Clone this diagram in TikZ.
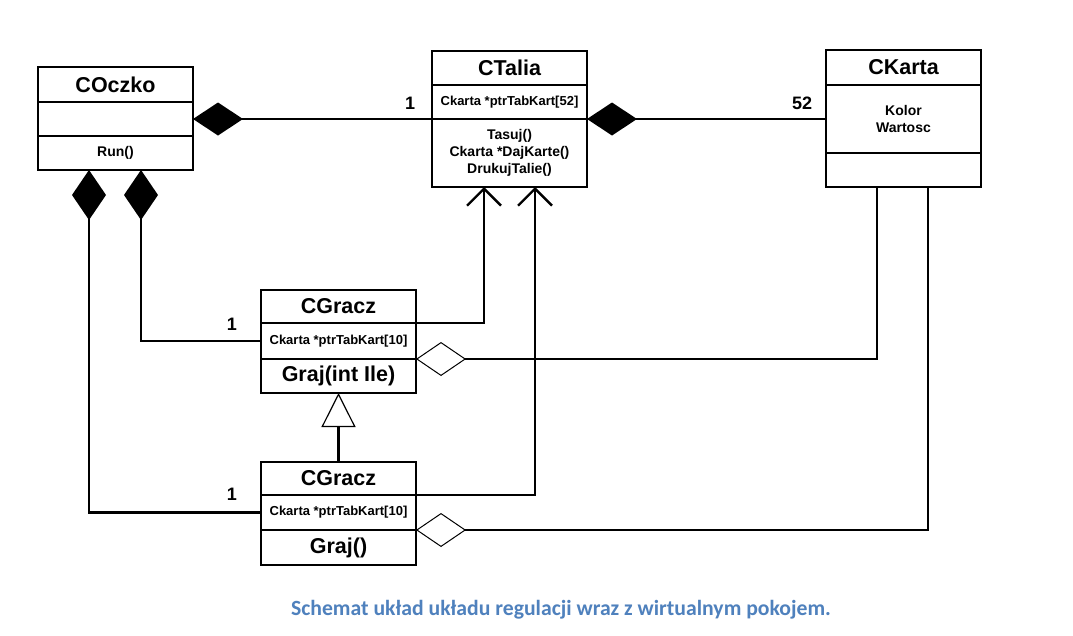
\documentclass[tikz,border=0pt]{standalone}
\usepackage{fontspec}
\setmainfont{Liberation Sans}
\newfontfamily\capfont{Carlito}
\usetikzlibrary{arrows.meta}
\definecolor{capblue}{RGB}{79,129,189}
\tikzset{
  cell/.style={draw, line width=2.4pt, minimum width=155pt, inner sep=0pt, outer sep=0pt, align=center, font=\bfseries},
  ttl/.style={cell, font=\fontsize{21.5}{23}\selectfont\bfseries},
  sml/.style={cell, font=\fontsize{13}{16.5}\selectfont\bfseries},
  med/.style={cell, font=\fontsize{14}{16.8}\selectfont\bfseries},
  big/.style={cell, font=\fontsize{21.5}{24}\selectfont\bfseries},
  conn/.style={line width=2.4pt},
  comp/.style={conn, {Diamond[length=50pt,width=33pt]}-},
  compv/.style={conn, {Diamond[length=50pt,width=34pt]}-},
  aggr/.style={conn, {Diamond[open,length=50pt,width=34pt,line width'=1pt]}-},
  dep/.style={conn, -{Straight Barb[length=17pt,width=34pt]}},
  inh/.style={conn, {Triangle[open,length=34pt,width=34pt,line width'=1.2pt]}-},
  mult/.style={font=\fontsize{18}{20}\selectfont\bfseries, inner sep=0pt},
}
\begin{document}
\begin{tikzpicture}[x=1pt,y=-1pt]
\fill[white] (0,0) rectangle (1073,635);
\useasboundingbox (0,0) rectangle (1073,635);
% COczko
\node[ttl, minimum height=35pt] (cocTitle) at (115.5,84.5) {COczko};
\node[cell, minimum height=34pt] (cocMid) at (115.5,119) {};
\node[med, minimum height=34pt] (cocRun) at (115.5,153) {Run()};
% CTalia
\node[ttl, minimum height=34pt] (talTitle) at (509.5,68) {CTalia};
\node[sml, minimum height=34pt] (talAttr) at (509.5,102) {Ckarta *ptrTabKart[52]};
\node[med, minimum height=68pt] (talMeth) at (509.5,153) {Tasuj()\\Ckarta *DajKarte()\\DrukujTalie()};
% CKarta
\node[ttl, minimum height=35pt] (karTitle) at (903.5,67.5) {CKarta};
\node[med, minimum height=68pt] (karAttr) at (903.5,119) {Kolor\\Wartosc};
\node[cell, minimum height=34pt] (karMeth) at (903.5,170) {};
% CGracz 1
\node[ttl, minimum height=33pt] (g1Title) at (338.5,306.5) {CGracz};
\node[sml, minimum height=36pt] (g1Attr) at (338.5,341) {Ckarta *ptrTabKart[10]};
\node[big, minimum height=34pt] (g1Meth) at (338.5,376) {Graj(int Ile)};
% CGracz 2
\node[ttl, minimum height=33pt] (g2Title) at (338.5,478.5) {CGracz};
\node[sml, minimum height=35pt] (g2Attr) at (338.5,512.5) {Ckarta *ptrTabKart[10]};
\node[big, minimum height=35pt] (g2Meth) at (338.5,547.5) {Graj()};
% anchor points
\coordinate (cA) at (89,170);
\coordinate (cB) at (141,170);
\coordinate (tA) at (484,187);
\coordinate (tB) at (535,187);
\coordinate (kA) at (877,187);
\coordinate (kB) at (928,187);
% connectors
\draw[comp] (cocMid.east) -- (talAttr.south west);
\draw[comp] (talAttr.south east) -- (karAttr.west);
\draw[compv] (cA) |- (g2Attr.west);
\draw[compv] (cB) |- (g1Attr.west);
\draw[dep] (g1Title.south east) -| (tA);
\draw[dep] (g2Title.south east) -| (tB);
\draw[aggr] (g1Attr.south east) -| (kA);
\draw[aggr] (g2Attr.south east) -| (kB);
\draw[inh] (g1Meth.south) -- (g2Title.north);
% multiplicities
\node[mult] (m1) at (410,103) {1};
\node[mult] (m2) at (802,103) {52};
\node[mult] (m3) at (232,324) {1};
\node[mult] (m4) at (232,494) {1};
% caption
\node[font=\capfont\fontsize{21.7}{23}\selectfont\bfseries, text=capblue, inner sep=0pt] (cap) at (561,610) {Schemat układ układu regulacji wraz z wirtualnym pokojem.};
\end{tikzpicture}
\end{document}
